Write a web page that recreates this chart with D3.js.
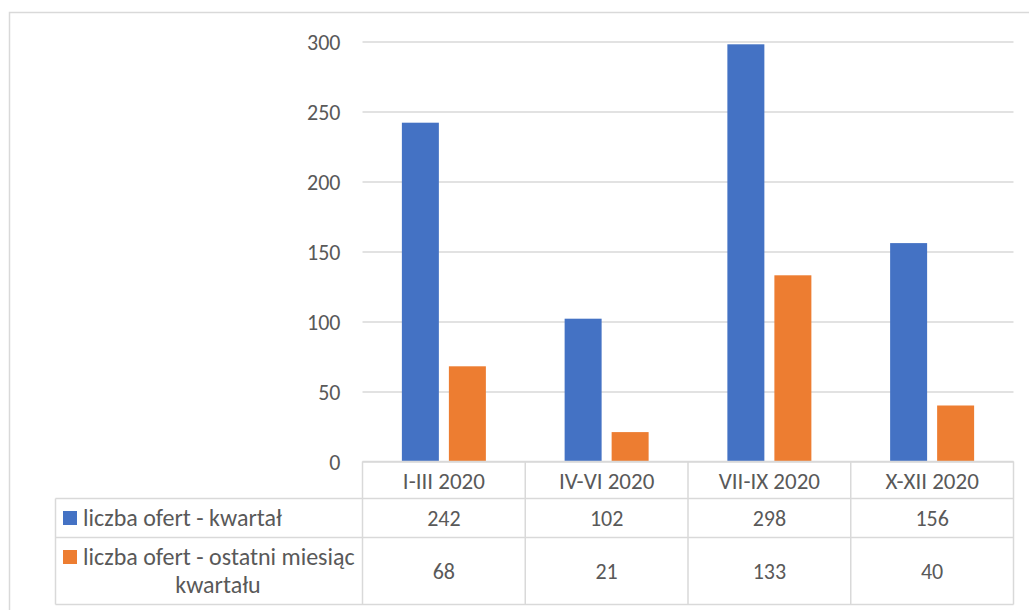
<!DOCTYPE html>
<html><head><meta charset="utf-8">
<script src="https://cdn.jsdelivr.net/npm/d3@7"></script>
<style>
html,body{margin:0;padding:0;background:#fff;}
svg{display:block;}
text{font-family:Carlito,Calibri,Lato,"Open Sans",sans-serif;fill:#595959;}
</style></head>
<body>
<svg id="c" width="1029" height="610"></svg>
<script>
const categories = ["I-III 2020","IV-VI 2020","VII-IX 2020","X-XII 2020"];
const seriesNames = ["liczba ofert - kwartał","liczba ofert - ostatni miesiąc kwartału"];
const seriesQuarter = [242,102,298,156];
const seriesLastMonth = [68,21,133,40];
const yTicks = [0,50,100,150,200,250,300];
const colors = ["#4472C4","#ED7D31"];

(function(){
const series = [seriesQuarter, seriesLastMonth];
const svg = d3.select("#c");
const FS_NUM = 22, FS_CAT = 23, FS_LEG = 24;
const grid = "#d9d9d9";

// outer frame
svg.append("rect").attr("x",9.5).attr("y",12.5).attr("width",1040).attr("height",620)
  .attr("fill","none").attr("stroke",grid).attr("stroke-width",1.5);

const pLeft = 362.5, pRight = 1013.5, pTop = 41.5, base = 461.5;
const x = d3.scaleBand().domain(categories).range([pLeft,pRight]).paddingInner(0).paddingOuter(0);
const y = d3.scaleLinear().domain([0,300]).range([base,pTop]);
const bw = x.bandwidth();
const x1 = d3.scaleBand().domain([0,1]).range([bw/2-42,bw/2+42]).paddingInner(0.213);

// gridlines + y labels
const yAxis = d3.axisLeft(y).tickValues(yTicks).tickSize(-(pRight-pLeft)).tickPadding(22).tickFormat(d3.format("d"));
const ga = svg.append("g").attr("transform",`translate(${pLeft},0)`).call(yAxis);
ga.select(".domain").remove();
ga.selectAll(".tick line").attr("stroke",grid).attr("stroke-width",1.5);
ga.selectAll(".tick text").attr("font-size",FS_NUM).attr("fill","#595959").attr("dy","0.35em")
  .style("font-family","Carlito,Calibri,Lato,sans-serif");

// bars
series.forEach((vals,si)=>{
  svg.append("g").selectAll("rect").data(vals).join("rect")
    .attr("x",(d,i)=>x(categories[i])+x1(si))
    .attr("y",d=>y(d))
    .attr("width",x1.bandwidth())
    .attr("height",d=>base-y(d))
    .attr("fill",colors[si]);
});

// data table
const rowCat = [base, 498.5], row1 = [498.5, 537.5], row2 = [537.5, 604.5];
const tableLeft = 55.5;
const tl = svg.append("g").attr("stroke",grid).attr("stroke-width",1.5).attr("fill","none");
tl.append("line").attr("x1",pLeft).attr("x2",pRight).attr("y1",base).attr("y2",base);
[row1[0],row2[0],row2[1]].forEach(yy=>{
  tl.append("line").attr("x1",tableLeft).attr("x2",pRight).attr("y1",yy).attr("y2",yy);
});
tl.append("line").attr("x1",tableLeft).attr("x2",tableLeft).attr("y1",row1[0]).attr("y2",row2[1]);
categories.forEach(c=>{
  tl.append("line").attr("x1",x(c)).attr("x2",x(c)).attr("y1",base).attr("y2",row2[1]);
});
tl.append("line").attr("x1",pRight).attr("x2",pRight).attr("y1",base).attr("y2",row2[1]);

// category labels
svg.append("g").selectAll("text").data(categories).join("text")
  .attr("x",d=>x(d)+bw/2).attr("y",(rowCat[0]+rowCat[1])/2+1).attr("dy","0.35em")
  .attr("text-anchor","middle").attr("font-size",FS_CAT).text(d=>d);

// value rows
const rowCenters = [(row1[0]+row1[1])/2, (row2[0]+row2[1])/2];
series.forEach((vals,si)=>{
  svg.append("g").selectAll("text").data(vals).join("text")
    .attr("x",(d,i)=>x(categories[i])+bw/2).attr("y",rowCenters[si]).attr("dy","0.35em")
    .attr("text-anchor","middle").attr("font-size",FS_NUM).text(d=>d);
});

// legend keys + labels
svg.append("rect").attr("x",63).attr("y",511).attr("width",14).attr("height",14).attr("fill",colors[0]);
svg.append("text").attr("x",83).attr("y",rowCenters[0]).attr("dy","0.35em").attr("font-size",FS_LEG).text(seriesNames[0]);
svg.append("rect").attr("x",63).attr("y",550).attr("width",14).attr("height",14).attr("fill",colors[1]);
svg.append("text").attr("x",83).attr("y",557).attr("dy","0.35em").attr("font-size",FS_LEG).text("liczba ofert - ostatni miesiąc");
svg.append("text").attr("x",218).attr("y",585).attr("dy","0.35em").attr("font-size",FS_LEG).attr("text-anchor","middle").text("kwartału");
})();
</script>
</body></html>
